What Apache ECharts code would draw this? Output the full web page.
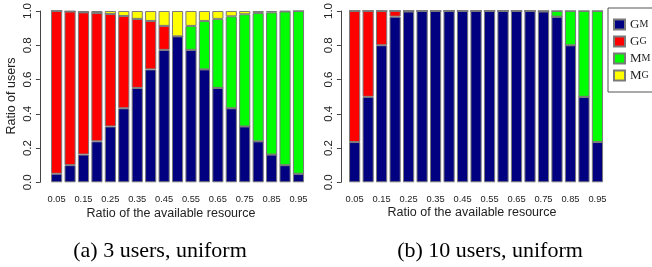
<!DOCTYPE html>
<html><head><meta charset="utf-8">
<script src="https://cdn.jsdelivr.net/npm/echarts@6/dist/echarts.min.js"></script>
<style>html,body{margin:0;padding:0;background:#fff}#c{width:652px;height:267px}</style>
</head><body><div id="c"></div>
<script>
const categories = ['0.05','0.10','0.15','0.20','0.25','0.30','0.35','0.40','0.45','0.50','0.55','0.60','0.65','0.70','0.75','0.80','0.85','0.90','0.95'];
const seriesNames = ['GM','GG','MM','MG'];
const yTicks = ['0.0','0.2','0.4','0.6','0.8','1.0'];
// Panel (a): 3 users, uniform
const a_GM = [0.05,0.10,0.162,0.239,0.326,0.432,0.551,0.659,0.773,0.852,0.773,0.659,0.551,0.432,0.326,0.239,0.162,0.10,0.05];
const a_GG = [0.95,0.897,0.83,0.749,0.657,0.539,0.403,0.283,0.14,0,0,0,0,0,0,0,0,0,0];
const a_MM = [0,0,0,0,0,0,0,0,0,0,0.14,0.283,0.403,0.537,0.655,0.749,0.83,0.897,0.95];
const a_MG = [0,0.003,0.008,0.012,0.017,0.029,0.046,0.058,0.087,0.148,0.087,0.058,0.046,0.031,0.019,0.012,0.008,0.003,0];
// Panel (b): 10 users, uniform
const b_GM = [0.235,0.499,0.80,0.967,0.997,1,1,1,1,1,1,1,1,1,0.997,0.967,0.80,0.499,0.235];
const b_GG = [0.765,0.501,0.20,0.033,0.003,0,0,0,0,0,0,0,0,0,0,0,0,0,0];
const b_MM = [0,0,0,0,0,0,0,0,0,0,0,0,0,0,0.003,0.033,0.20,0.501,0.765];
const b_MG = [0,0,0,0,0,0,0,0,0,0,0,0,0,0,0,0,0,0,0];

const colors = {GM:'#000080', GG:'#FF0000', MM:'#00FF00', MG:'#FFFF00'};
const sans = 'Liberation Sans, Arial, sans-serif';
const serif = 'Liberation Serif, Times New Roman, serif';

function xAx(gi){
  return {type:'category', gridIndex:gi, data:categories,
    axisLine:{show:false}, axisTick:{show:false},
    axisLabel:{interval:1, fontSize:9.3, color:'#222', fontFamily:sans, margin:13}};
}
function yAx(gi, off){
  return {type:'value', gridIndex:gi, min:0, max:1, interval:0.2, offset:off,
    splitLine:{show:false},
    axisLine:{show:true, lineStyle:{color:'#444', width:1}},
    axisTick:{show:true, length:4, lineStyle:{color:'#444'}},
    axisLabel:{rotate:90, fontSize:11.5, color:'#222', fontFamily:sans, margin:6,
      formatter:v=>yTicks[Math.round(v*5)]}};
}
function mk(name, data, gi, stack){
  return {name, type:'bar', stack, xAxisIndex:gi, yAxisIndex:gi, data,
    barCategoryGap:'17%',
    itemStyle:{color:colors[name], borderColor:'#7a7a7a', borderWidth:1},
    emphasis:{disabled:true}, animation:false};
}
const chart = echarts.init(document.getElementById('c'));
chart.setOption({
  animation:false,
  grid:[{left:49.9, top:9.5, width:255.3, height:172.8},
        {left:347.9, top:9.5, width:256.3, height:172.8}],
  xAxis:[xAx(0), xAx(1)],
  yAxis:[yAx(0,10), yAx(1,7)],
  legend:{data:seriesNames, orient:'vertical', left:608, top:8,
    itemWidth:11, itemHeight:10, itemGap:4, icon:'rect',
    padding:[10,30,10,5], backgroundColor:'#fff', borderColor:'#555', borderWidth:1,
    selectedMode:false,
    formatter:n=>'{a|'+n[0]+'}{b|'+n.slice(1)+'}',
    textStyle:{rich:{a:{fontFamily:serif, fontSize:13, color:'#222'}, b:{fontFamily:serif, fontSize:10, color:'#222'}}}},
  series:[
    mk('GM',a_GM,0,'a'), mk('GG',a_GG,0,'a'), mk('MM',a_MM,0,'a'), mk('MG',a_MG,0,'a'),
    mk('GM',b_GM,1,'b'), mk('GG',b_GG,1,'b'), mk('MM',b_MM,1,'b'), mk('MG',b_MG,1,'b')
  ],
  graphic:[
    {type:'text', x:12, y:96, rotation:Math.PI/2, style:{text:'Ratio of users', fontSize:12.5, fontFamily:sans, fill:'#222', textAlign:'center', textVerticalAlign:'middle'}},
    {type:'text', x:171, y:214, style:{text:'Ratio of the available resource', fontSize:12.5, fontFamily:sans, fill:'#222', textAlign:'center', textVerticalAlign:'middle'}},
    {type:'text', x:472, y:213, style:{text:'Ratio of the available resource', fontSize:12.5, fontFamily:sans, fill:'#222', textAlign:'center', textVerticalAlign:'middle'}},
    {type:'text', x:160, y:251, style:{text:'(a) 3 users, uniform', fontSize:22, fontFamily:serif, fill:'#000', textAlign:'center', textVerticalAlign:'middle'}},
    {type:'text', x:490, y:251, style:{text:'(b) 10 users, uniform', fontSize:22, fontFamily:serif, fill:'#000', textAlign:'center', textVerticalAlign:'middle'}}
  ]
});
</script></body></html>
